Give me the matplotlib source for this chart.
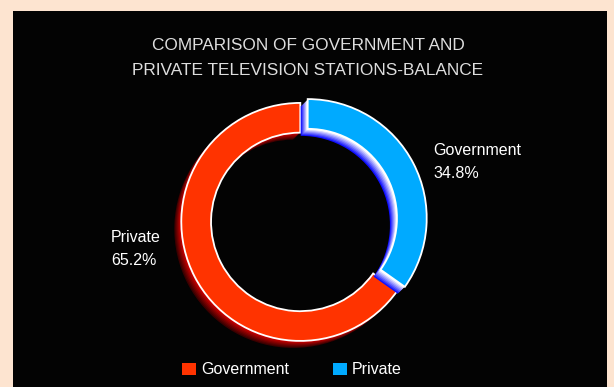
import matplotlib.pyplot as plt
from matplotlib.patches import Rectangle
from matplotlib.colors import to_rgb

# data
slice_names = ['Government', 'Private']
slice_shares = [34.8, 65.2]
slice_colors = ['#00aaff', '#ff3300']
legend_names = ['Government', 'Private']
legend_colors = ['#ff3300', '#00aaff']
title_lines = ['COMPARISON OF GOVERNMENT AND', 'PRIVATE TELEVISION STATIONS-BALANCE']

plt.rcParams['font.family'] = ['Liberation Sans', 'DejaVu Sans']

W, H = 614, 387
fig = plt.figure(figsize=(W / 100, H / 100), dpi=100, facecolor='#fde4d0')
fig.add_artist(Rectangle((13 / W, 0), (607 - 13) / W, (H - 11) / H,
                         transform=fig.transFigure, facecolor='#030303',
                         edgecolor='none', zorder=0))

# ring geometry in pixels
R, cx, cy, half = 119, 304, 220, 150
ax = fig.add_axes([(cx - half) / W, (H - cy - half) / H, 2 * half / W, 2 * half / H])
ax.patch.set_visible(False)

explode = [0.035, 0.035]
pie_kw = dict(startangle=90, counterclock=False, explode=explode, radius=1)


def mix(a, b, t):
    a, b = to_rgb(a), to_rgb(b)
    return tuple(a[i] * (1 - t) + b[i] * t for i in range(3))


def shadow(idx, near, far, steps=7):
    for k in range(steps, 0, -1):
        t = (k - 1) / (steps - 1)
        cols = ['none', 'none']
        cols[idx] = mix(near, far, t)
        ax.pie(slice_shares, colors=cols, center=(-k / R, -k / R),
               wedgeprops=dict(width=0.25, linewidth=0), **pie_kw)


def main(idx):
    cols = ['none', 'none']
    cols[idx] = slice_colors[idx]
    wedges, _ = ax.pie(slice_shares, colors=cols,
                       wedgeprops=dict(width=0.25, linewidth=1.3, edgecolor='white'), **pie_kw)
    for i, w in enumerate(wedges):
        if i != idx:
            w.set_edgecolor('none')


# red slice with dark shadow, then blue with light shadow on top
shadow(1, '#d00000', '#3a0000')
main(1)
shadow(0, '#ffffff', '#1010ff')
main(0)

ax.set_xlim(-half / R, half / R)
ax.set_ylim(-half / R, half / R)
ax.axis('off')

# title
fig.text(308 / W, (H - 50) / H, title_lines[0], ha='center', va='baseline',
         fontsize=12.4, color='#dedede')
fig.text(308 / W, (H - 75) / H, title_lines[1], ha='center', va='baseline',
         fontsize=12.4, color='#dedede')

# slice labels
label_pos = [(433, 155), (111, 242)]
for (x, y), name, val in zip(label_pos, slice_names, slice_shares):
    fig.text(x / W, (H - y) / H, name, ha='left', va='baseline', fontsize=11.5, color='white')
    fig.text(x / W, (H - y - 23) / H, f'{val}%', ha='left', va='baseline', fontsize=11.5, color='white')

handles = [Rectangle((0, 0), 1, 1, facecolor=c, edgecolor='none') for c in legend_colors]
fig.legend(handles, legend_names, loc='center', bbox_to_anchor=(292 / W, (H - 370) / H),
           ncol=2, frameon=False, fontsize=11.5, labelcolor='white',
           handlelength=0.85, handleheight=0.85, handletextpad=0.35,
           columnspacing=2.75, borderaxespad=0, borderpad=0)

fig.savefig('out.png', dpi=100, facecolor=fig.get_facecolor())
